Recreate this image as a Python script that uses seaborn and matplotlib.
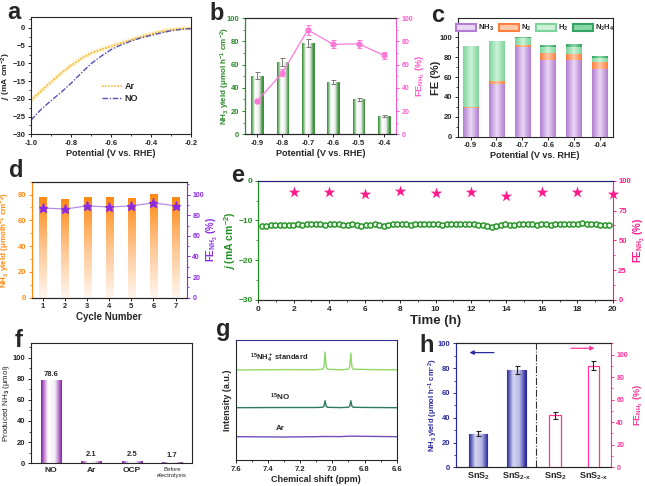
import numpy as np
import pandas as pd
import matplotlib
matplotlib.use("Agg")
import matplotlib.pyplot as plt
import seaborn as sns
from matplotlib.colors import LinearSegmentedColormap
from matplotlib.ticker import AutoMinorLocator, MultipleLocator
from matplotlib.patches import Patch

# ---------------- data ----------------
# (a) LSV
lsv_pot = [-1.0, -0.95, -0.9, -0.85, -0.8, -0.75, -0.7, -0.65, -0.6, -0.55, -0.5, -0.45, -0.4, -0.35, -0.3, -0.25, -0.2]
lsv_ar = [-20.4, -17.8, -15.3, -12.8, -10.6, -8.7, -7.1, -6.1, -5.2, -4.3, -3.4, -2.5, -1.7, -1.0, -0.5, -0.2, -0.1]
lsv_no = [-26.0, -23.0, -20.5, -18.2, -15.6, -12.8, -10.1, -8.0, -6.1, -4.8, -3.7, -2.8, -2.1, -1.4, -0.8, -0.4, -0.2]

# (b) yield / FE vs potential
pot_labels = ["-0.9", "-0.8", "-0.7", "-0.6", "-0.5", "-0.4"]
yield_b = [50.5, 62.5, 78.5, 45.0, 30.0, 15.5]
yield_b_err = [3.0, 3.5, 3.5, 2.0, 1.5, 1.0]
fe_b = [28.5, 53.0, 90.0, 77.5, 78.0, 68.0]
fe_b_err = [1.5, 3.0, 4.0, 3.5, 3.5, 3.0]

# (c) FE distribution
fe_nh3 = [29.0, 53.0, 90.5, 77.0, 77.0, 68.0]
fe_n2 = [1.0, 2.5, 1.2, 7.0, 6.5, 7.0]
fe_h2 = [61.0, 41.0, 7.6, 6.0, 7.0, 4.0]
fe_n2h4 = [0.0, 0.0, 0.5, 2.5, 2.5, 1.7]
c_species = ["NH$_3$", "N$_2$", "H$_2$", "N$_2$H$_4$"]

# (d) cycling
cycles = ["1", "2", "3", "4", "5", "6", "7"]
yield_d = [78.0, 76.5, 78.0, 78.0, 77.0, 80.5, 78.0]
fe_d = [87.0, 86.0, 89.0, 88.0, 89.0, 92.0, 89.0]

# (e) long-term stability
j_e = [-11.5, -11.3, -11.2, -11.1, -11.1, -11.1, -11.2, -11.1, -11.0, -11.1, -11.0, -11.0, -10.9, -10.8,
       -11.2, -11.0, -10.9, -11.0, -11.1, -11.1, -11.0, -11.1, -11.3, -11.2, -11.1, -11.0, -11.1, -11.4,
       -11.2, -11.0, -10.9, -11.0, -11.0, -11.1, -11.0, -11.0, -10.9, -11.0, -10.9, -11.0, -11.1, -11.0,
       -11.0, -10.9, -11.0, -11.0, -10.9, -11.0, -11.1, -11.2, -11.4, -11.6, -11.3, -11.1, -11.0, -11.1,
       -11.1, -11.0, -10.8, -11.0, -11.0, -11.1, -11.0, -11.0, -11.1, -11.0, -10.9, -10.8, -10.9, -11.0,
       -10.8, -10.7, -10.9, -10.9, -11.0, -11.1, -11.2, -11.1]
fe_e_time = [2, 4, 6, 8, 10, 12, 14, 16, 18, 20]
fe_e = [90.8, 90.8, 88.5, 91.0, 90.0, 90.5, 87.5, 90.5, 90.5, 88.5]

# (f) control experiments
f_labels = ["NO", "Ar", "OCP", "Before\nelectrolysis"]
f_vals = [78.6, 2.1, 2.5, 1.7]

# (g) 1H NMR
nmr_x = [7.60, 7.30, 7.10, 7.06, 7.052, 7.045, 7.038, 7.03, 6.95, 6.90, 6.892, 6.885, 6.878, 6.87, 6.75, 6.60]
nmr_std = [0.0, 0.4, 0.3, 0.8, 3.0, 18.0, 3.0, 0.8, 0.2, 0.8, 3.0, 17.0, 3.0, 0.8, 0.4, 0.2]
nmr_no = [0.0, 0.2, 0.2, 0.4, 1.5, 7.0, 1.5, 0.4, 0.1, 0.4, 1.5, 7.0, 1.5, 0.4, 0.2, 0.0]
nmr_ar = [0.0, -0.3, 0.0, 0.2, 0.2, 0.2, 0.2, 0.2, 0.1, 0.5, 0.5, 0.5, 0.5, 0.5, 0.3, 0.0]

# (h) SnS2 vs SnS2-x
h_cats = ["SnS2 yield", "SnS2-x yield", "SnS2 FE", "SnS2-x FE"]
h_ticklabels = ["SnS$_2$", "SnS$_{2\u2010x}$", "SnS$_2$", "SnS$_{2\u2010x}$"]
h_yield = [27.0, 78.5]
h_yield_err = [2.0, 3.5]
h_fe = [46.0, 90.0]
h_fe_err = [3.0, 4.0]

# ---------------- style ----------------
sns.set_theme(style="ticks")
plt.rcParams["font.family"] = ["Liberation Sans", "DejaVu Sans"]
plt.rcParams.update({
    "font.weight": "bold", "axes.labelweight": "bold",
    "mathtext.fontset": "custom", "mathtext.rm": "Liberation Sans:bold",
    "mathtext.it": "Liberation Sans:italic:bold", "mathtext.bf": "Liberation Sans:bold",
    "mathtext.default": "rm",
    "axes.linewidth": 0.8, "xtick.major.width": 0.7, "ytick.major.width": 0.7,
    "xtick.minor.width": 0.6, "ytick.minor.width": 0.6,
    "xtick.major.size": 2.5, "ytick.major.size": 2.5, "xtick.minor.size": 1.5, "ytick.minor.size": 1.5,
    "xtick.major.pad": 1.5, "ytick.major.pad": 1.5,
    "axes.labelpad": 1.5,
})
TS = 5.5
LS = 6.5

W, H = 645, 486
fig = plt.figure(figsize=(6.45, 4.86), dpi=100)


def add_ax(l, t, r, b):
    return fig.add_axes([l / W, 1 - b / H, (r - l) / W, (b - t) / H])


def grad_fill(ax, patch, colors, horizontal=True, z=None):
    x0, y0 = patch.get_x(), patch.get_y()
    w, h = patch.get_width(), patch.get_height()
    cmap = LinearSegmentedColormap.from_list("g", colors)
    v = np.linspace(0, 1, 64)
    arr = v.reshape(1, -1) if horizontal else v.reshape(-1, 1)
    zz = patch.get_zorder() + 0.1 if z is None else z
    im = ax.imshow(arr, cmap=cmap, extent=[x0, x0 + w, y0, y0 + h], aspect="auto",
                   origin="lower", zorder=zz, interpolation="bilinear")
    im.set_clip_path(patch)
    return im


def tick_style(ax, size=TS):
    ax.tick_params(labelsize=size, direction="out")


def color_axis(ax, side, color):
    ax.spines[side].set_color(color)
    ax.tick_params(axis="y", colors=color, which="both")
    ax.yaxis.label.set_color(color)


def letter(x, y, s):
    fig.text(x / W, 1 - y / H, s, fontsize=17, fontweight="bold", va="baseline", ha="left")


# ---------------- (a) ----------------
ax = add_ax(31, 17.3, 191, 134.3)
df_a = pd.DataFrame({"pot": lsv_pot * 2, "j": lsv_ar + lsv_no, "gas": ["Ar"] * len(lsv_pot) + ["NO"] * len(lsv_pot)})
ax.plot(lsv_pot, lsv_ar, color="#ffe9a8", lw=3.0, alpha=0.6, zorder=1)
sns.lineplot(data=df_a[df_a.gas == "Ar"], x="pot", y="j", ax=ax, color="#f5ae1f", lw=1.1,
             linestyle=(0, (1, 1)), label="Ar")
sns.lineplot(data=df_a[df_a.gas == "NO"], x="pot", y="j", ax=ax, color="#5353b3", lw=1.0,
             linestyle=(0, (4, 1.2, 1, 1.2)), label="NO")
ax.set_xlim(-1.0, -0.2)
ax.set_ylim(-30, 3)
ax.xaxis.set_minor_locator(AutoMinorLocator(2))
ax.yaxis.set_major_locator(MultipleLocator(5))
ax.yaxis.set_minor_locator(AutoMinorLocator(2))
ax.set_xticks([-1.0, -0.8, -0.6, -0.4, -0.2])
ax.set_xticklabels(["-1.0", "-0.8", "-0.6", "-0.4", "-0.2"])
ax.set_xlabel("Potential (V vs. RHE)", fontsize=LS)
ax.set_ylabel(r"$\mathit{j}$ (mA cm$^{-2}$)", fontsize=6)
ax.yaxis.set_label_coords(-0.115, 0.5)
tick_style(ax)
leg = ax.legend(loc="lower right", bbox_to_anchor=(0.72, 0.2), frameon=False, fontsize=6.5,
                handlelength=2.2, handletextpad=0.3, labelspacing=0.3)

# ---------------- (b) ----------------
green = "#2b8a2b"
pink = "#ff5ccd"
ax = add_ax(245, 18.3, 396, 134.3)
sns.barplot(x=pot_labels, y=yield_b, ax=ax, color=green, width=0.45, edgecolor=green, linewidth=0.6)
centers_b = []
for p in ax.patches:
    grad_fill(ax, p, [green, "#ffffff", "#f0f0f0", green])
    centers_b.append(p.get_x() + p.get_width() / 2)
ax.errorbar(centers_b, yield_b, yerr=yield_b_err, fmt="none", ecolor="#7a7a7a", elinewidth=0.7, capsize=1.8,
            capthick=0.7, zorder=5)
ax.set_xlim(-0.47, 5.47)
ax.set_ylim(0, 100)
ax.yaxis.set_major_locator(MultipleLocator(20))
ax.yaxis.set_minor_locator(AutoMinorLocator(2))
ax.set_xlabel("Potential (V vs. RHE)", fontsize=LS)
ax.set_ylabel("NH$_3$ yield (μmol h$^{-1}$ cm$^{-2}$)", fontsize=LS - 0.7)
ax.yaxis.set_label_coords(-0.088, 0.5)
tick_style(ax)
ax2 = ax.twinx()
ax2.errorbar(centers_b, fe_b, yerr=fe_b_err, fmt="-o", color="#ff7ad8", ms=3.5, lw=0.9, elinewidth=0.8,
             capsize=1.8, capthick=0.7, zorder=6)
ax2.set_ylim(0, 100)
ax2.yaxis.set_major_locator(MultipleLocator(20))
ax2.yaxis.set_minor_locator(AutoMinorLocator(2))
ax2.set_ylabel("FE$_{NH_3}$ (%)", fontsize=LS)
ax2.yaxis.set_label_coords(1.115, 0.5)
tick_style(ax2, 5)
color_axis(ax, "left", green)
color_axis(ax2, "right", pink)
ax2.spines["left"].set_color(green)
ax.spines["right"].set_visible(False)

# ---------------- (c) ----------------
ax = add_ax(457.7, 18.3, 612.7, 136.7)
layers = [fe_nh3, fe_n2, fe_h2, fe_n2h4]
c_edges = ["#b27dd2", "#ff7f3f", "#7dd49a", "#34a463"]
c_centers = ["#ead8f4", "#ffc8a6", "#cdf2d8", "#8ad7a6"]
cum = np.cumsum(np.array(layers), axis=0)
for k in range(len(layers) - 1, -1, -1):
    n_before = len(ax.patches)
    sns.barplot(x=pot_labels, y=cum[k], ax=ax, color=c_edges[k], width=0.6, linewidth=0)
    for p in ax.patches[n_before:]:
        p.set_zorder(10 - k)
        grad_fill(ax, p, [c_edges[k], c_centers[k], c_edges[k]], z=10.5 - k)
ax.set_xlim(-0.5, 5.5)
ax.set_ylim(0, 119)
ax.set_yticks([0, 20, 40, 60, 80, 100])
ax.yaxis.set_minor_locator(MultipleLocator(10))
ax.set_xlabel("Potential (V vs. RHE)", fontsize=LS)
ax.set_ylabel("FE (%)", fontsize=LS + 1.5)
ax.yaxis.set_label_coords(-0.108, 0.5)
tick_style(ax)
handles = [Patch(facecolor=c_centers[i], edgecolor=c_edges[i], lw=1.5) for i in range(4)]
ax.legend(handles, c_species, loc="upper center", ncol=4, frameon=False, fontsize=5.5,
          handlelength=2.6, handleheight=1.0, columnspacing=0.6, handletextpad=0.3,
          bbox_to_anchor=(0.5, 1.0), borderaxespad=0.2)

# ---------------- (d) ----------------
orange = "#ff8a14"
purple = "#8a2be2"
ax = add_ax(31.7, 181.7, 186.7, 297.7)
sns.barplot(x=cycles, y=yield_d, ax=ax, color=orange, width=0.32, linewidth=0)
centers_d = []
for p in ax.patches:
    grad_fill(ax, p, ["#fff6ee", "#ffc590", orange], horizontal=False)
    centers_d.append(p.get_x() + p.get_width() / 2)
ax.set_xlim(-0.5, 6.5)
ax.set_ylim(0, 90)
ax.yaxis.set_major_locator(MultipleLocator(20))
ax.yaxis.set_minor_locator(AutoMinorLocator(2))
ax.set_xlabel("Cycle Number", fontsize=LS + 0.5)
ax.set_ylabel("NH$_3$ yield (μmolh$^{-1}$ cm$^{-2}$)", fontsize=LS - 0.7)
ax.yaxis.set_label_coords(-0.125, 0.5)
tick_style(ax)
ax2 = ax.twinx()
ax2.plot(centers_d, fe_d, color="#b98ce8", lw=0.9, zorder=4)
ax2.plot(centers_d, fe_d, ls="none", marker="*", color=purple, ms=6.5, zorder=5)
ax2.set_ylim(0, 112.5)
ax2.yaxis.set_major_locator(MultipleLocator(20))
ax2.yaxis.set_minor_locator(AutoMinorLocator(2))
ax2.set_ylabel("FE$_{NH_3}$ (%)", fontsize=LS + 0.5)
ax2.yaxis.set_label_coords(1.115, 0.5)
tick_style(ax2, 5)
color_axis(ax, "left", orange)
color_axis(ax2, "right", purple)
ax2.spines["left"].set_color(orange)
ax.spines["right"].set_visible(False)

# ---------------- (e) ----------------
green_e = "#1f8f1f"
pink_e = "#ff1a8c"
ax = add_ax(258.3, 180.7, 612.7, 300)
t_e = np.linspace(0.2, 19.8, len(j_e))
sns.scatterplot(x=t_e, y=j_e, ax=ax, marker="o", s=14, facecolor="#e8f6e8", edgecolor=green_e, linewidth=1.0,
                zorder=4)
ax.set_xlim(0, 20)
ax.set_ylim(-30, 0)
ax.xaxis.set_major_locator(MultipleLocator(2))
ax.xaxis.set_minor_locator(AutoMinorLocator(2))
ax.yaxis.set_major_locator(MultipleLocator(10))
ax.yaxis.set_minor_locator(AutoMinorLocator(2))
ax.set_xlabel("Time (h)", fontsize=9.5)
ax.set_ylabel(r"$\mathit{j}$ (mA cm$^{-2}$)", fontsize=7.5)
ax.yaxis.set_label_coords(-0.058, 0.5)
tick_style(ax, 6)
ax2 = ax.twinx()
sns.scatterplot(x=fe_e_time, y=fe_e, ax=ax2, marker="*", s=75, color=pink_e, linewidth=0, zorder=5, clip_on=False)
ax2.set_ylim(0, 100)
ax2.yaxis.set_major_locator(MultipleLocator(25))
ax2.yaxis.set_minor_locator(AutoMinorLocator(2))
ax2.set_ylabel("FE$_{NH_3}$ (%)", fontsize=7)
ax2.yaxis.set_label_coords(1.053, 0.5)
tick_style(ax2, 5.5)
color_axis(ax, "left", green_e)
color_axis(ax2, "right", pink_e)
ax2.spines["left"].set_color(green_e)
ax.spines["right"].set_visible(False)
ax2.spines["top"].set_color("#202080")

# ---------------- (f) ----------------
purple_f = "#8a1fa8"
ax = add_ax(30.7, 342.7, 192.3, 463.3)
sns.barplot(x=f_labels, y=f_vals, ax=ax, color=purple_f, width=0.5, linewidth=0)
for p, v in zip(ax.patches, f_vals):
    grad_fill(ax, p, [purple_f, "#ffffff", "#f4eef6", purple_f])
    ax.text(p.get_x() + p.get_width() / 2, v + 2.5, f"{v}", ha="center", va="bottom", fontsize=5.5,
            fontweight="bold")
ax.set_xlim(-0.5, 3.5)
ax.set_ylim(0, 114)
ax.set_yticks([0, 20, 40, 60, 80, 100])
ax.yaxis.set_minor_locator(MultipleLocator(10))
ax.set_ylabel("Produced NH$_3$ (μmol)", fontsize=LS - 0.7, fontweight="normal")
ax.yaxis.set_label_coords(-0.115, 0.5)
tick_style(ax)
labs = ax.get_xticklabels()
for i, lab in enumerate(labs):
    lab.set_fontsize(6 if i < 3 else 4.3)
    if i == 3:
        lab.set_fontweight("normal")
ax.tick_params(axis="x", length=0, pad=2.5)

# ---------------- (g) ----------------
ax = add_ax(235.7, 340, 396.7, 460)
traces = [("std", nmr_std, 90, "#8fd86a"), ("no", nmr_no, 52.3, "#2c7d5c"), ("ar", nmr_ar, 23.3, "#7050b8")]
for name, ys, off, col in traces:
    sns.lineplot(x=nmr_x, y=np.array(ys) + off, ax=ax, color=col, lw=1.0, sort=True)
ax.set_xlim(7.6, 6.6)
ax.set_ylim(0, 120)
ax.set_xticks([7.6, 7.4, 7.2, 7.0, 6.8, 6.6])
ax.set_xticklabels(["7.6", "7.4", "7.2", "7.0", "6.8", "6.6"])
ax.xaxis.set_minor_locator(MultipleLocator(0.1))
ax.set_yticks([])
ax.set_xlabel("Chemical shift (ppm)", fontsize=LS)
ax.set_ylabel("Intensity (a.u.)", fontsize=LS)
ax.yaxis.set_label_coords(-0.022, 0.5)
tick_style(ax)
ax.text(7.51, 95, "$^{15}$NH$_4^+$ standard", fontsize=5.5, ha="left", va="bottom")
ax.text(7.39, 57, "$^{15}$NO", fontsize=5.8, ha="left", va="bottom")
ax.text(7.35, 28, "Ar", fontsize=5.8, ha="left", va="bottom")
ax.spines["top"].set_color("#303090")

# ---------------- (h) ----------------
blue = "#2a2a9e"
pink_h = "#ff3399"
ax = add_ax(456, 343.3, 610.7, 467.3)
df_h1 = pd.DataFrame({"cat": h_cats[:2], "val": h_yield})
sns.barplot(data=df_h1, x="cat", y="val", order=h_cats, ax=ax, color=blue, width=0.48,
            edgecolor=blue, linewidth=0.8)
centers_h1 = []
for p in ax.patches:
    if np.isfinite(p.get_height()) and p.get_height() > 0:
        grad_fill(ax, p, [blue, "#d6d6f2", "#b8b8e6", blue])
        centers_h1.append(p.get_x() + p.get_width() / 2)
ax.errorbar(centers_h1, h_yield, yerr=h_yield_err, fmt="none", ecolor="#222222", elinewidth=0.8, capsize=1.8,
            capthick=0.8, zorder=6)
ax.set_ylim(0, 100)
ax.yaxis.set_major_locator(MultipleLocator(20))
ax.yaxis.set_minor_locator(AutoMinorLocator(2))
ax.set_xlabel("")
ax.set_ylabel("NH$_3$ yield (μmol h$^{-1}$ cm$^{-2}$)", fontsize=LS - 1.0)
ax.yaxis.set_label_coords(-0.103, 0.5)
ax2 = ax.twinx()
df_h2 = pd.DataFrame({"cat": h_cats[2:], "val": h_fe})
sns.barplot(data=df_h2, x="cat", y="val", order=h_cats, ax=ax2, color="white", width=0.3,
            edgecolor=pink_h, linewidth=0.9)
centers_h2 = []
for p in ax2.patches:
    if np.isfinite(p.get_height()) and p.get_height() > 0:
        grad_fill(ax2, p, ["#ff9fd0", "#ffffff", "#ffffff", "#ff9fd0"])
        p.set_zorder(3)
        centers_h2.append(p.get_x() + p.get_width() / 2)
ax2.errorbar(centers_h2, h_fe, yerr=h_fe_err, fmt="none", ecolor="#222222", elinewidth=0.8, capsize=1.8,
             capthick=0.8, zorder=6)
ax2.set_ylim(0, 110)
ax2.set_yticks([0, 20, 40, 60, 80, 100])
ax2.yaxis.set_minor_locator(MultipleLocator(10))
ax2.set_ylabel("FE$_{NH_3}$ (%)", fontsize=LS)
ax2.yaxis.set_label_coords(1.135, 0.5)
ax2.set_xlabel("")
ax.set_xlim(-0.58, 3.45)
ax.set_xticks(range(len(h_cats)))
ax.set_xticklabels(h_ticklabels, fontsize=6.5)
ax.tick_params(axis="x", length=0, pad=2)
tick_style(ax)
tick_style(ax2, 5)
ax.axvline(1.5, color="#333333", lw=0.8, ls="-.", zorder=1)
ax.annotate("", xy=(-0.30, 92.5), xytext=(0.48, 92.5),
            arrowprops=dict(arrowstyle="-|>", color=blue, lw=0.9, mutation_scale=6))
ax.annotate("", xy=(3.10, 96), xytext=(2.34, 96),
            arrowprops=dict(arrowstyle="-|>", color=pink_h, lw=0.9, mutation_scale=6))
color_axis(ax, "left", blue)
color_axis(ax2, "right", pink_h)
ax2.spines["left"].set_color(blue)
ax.spines["right"].set_visible(False)
for lab in ax.get_xticklabels():
    lab.set_fontsize(6.5)

# ---------------- panel letters ----------------
letter(7, 19, "a")
letter(209, 20, "b")
letter(431, 22, "c")
letter(9, 177, "d")
letter(231, 182, "e")
letter(15, 347, "f")
letter(216, 336, "g")
letter(419, 352, "h")

fig.savefig("out.png", dpi=100)
